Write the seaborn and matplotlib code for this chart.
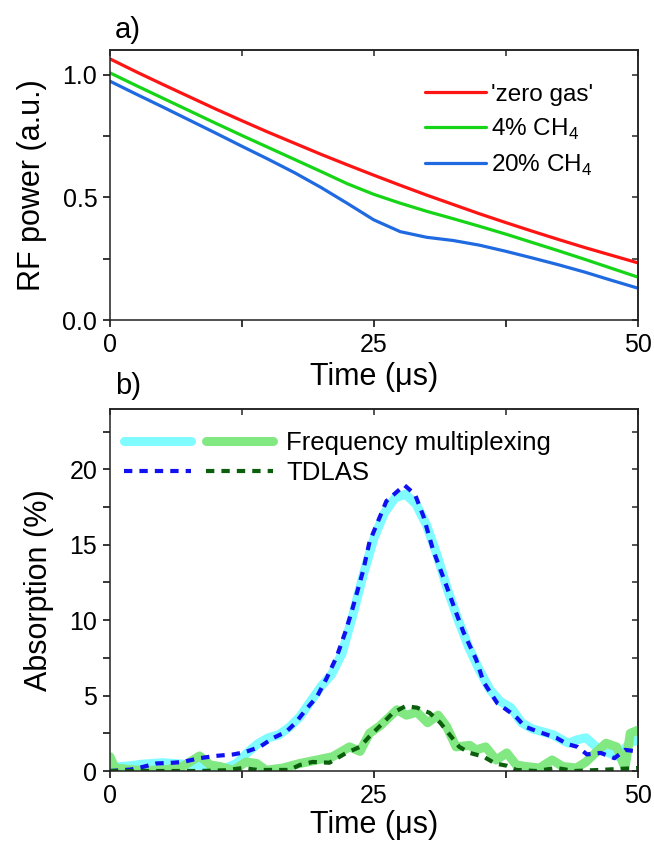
import numpy as np
import pandas as pd
import matplotlib
matplotlib.use("Agg")
import matplotlib.pyplot as plt
from matplotlib.ticker import MultipleLocator, FormatStrFormatter
from matplotlib.legend_handler import HandlerTuple
import seaborn as sns

sns.set_style("ticks")
plt.rcParams['font.family'] = ['Liberation Sans', 'DejaVu Sans']
plt.rcParams['mathtext.fontset'] = 'custom'
plt.rcParams['mathtext.rm'] = 'Liberation Sans'
plt.rcParams['text.color'] = 'black'
plt.rcParams['axes.labelcolor'] = 'black'

# ---- panel a: RF power traces ----
t_a = [0, 2.5, 5, 7.5, 10, 12.5, 15, 17.5, 20, 22.5, 25, 27.5, 30, 32.5, 35, 37.5, 40, 42.5, 45, 47.5, 50]
zero_gas = [1.064, 1.011, 0.960, 0.910, 0.860, 0.812, 0.765, 0.720, 0.675, 0.632, 0.590,
            0.549, 0.509, 0.471, 0.433, 0.397, 0.362, 0.328, 0.295, 0.264, 0.233]
ch4_4 = [1.007, 0.955, 0.904, 0.853, 0.802, 0.752, 0.703, 0.654, 0.605, 0.555, 0.512,
         0.476, 0.443, 0.413, 0.382, 0.350, 0.316, 0.282, 0.247, 0.211, 0.175]
ch4_20 = [0.973, 0.920, 0.868, 0.815, 0.762, 0.708, 0.655, 0.600, 0.540, 0.475, 0.408,
          0.360, 0.337, 0.324, 0.305, 0.280, 0.253, 0.225, 0.195, 0.162, 0.130]

# ---- panel b: absorption ----
t_fm20 = [0, 1, 2, 3, 4, 5, 6, 7, 8, 9, 10, 11, 12, 13, 14, 15, 16, 17, 18, 19, 20, 21, 22, 23, 24,
          25, 26, 27, 28, 29, 30, 31, 32, 33, 34, 35, 36, 37, 38, 39, 40, 41, 42, 43, 43.5, 44.2,
          45.1, 46.4, 47.3, 48.2, 49.2, 50]
fm20 = [0.2, 0.3, 0.35, 0.45, 0.5, 0.55, 0.5, 0.45, 0.4, 0.35, 0.3, 0.2, 0.5, 1.2, 1.8, 2.2, 2.4,
        2.9, 3.6, 4.6, 5.6, 6.4, 7.8, 10.3, 13.0, 15.4, 17.1, 18.1, 18.35, 17.7, 16.3, 14.3, 12.0,
        10.0, 8.2, 6.7, 5.4, 4.6, 4.2, 3.2, 2.8, 2.6, 2.4, 2.0, 1.84, 2.06, 2.2, 1.4, 1.2, 0.95,
        1.84, 2.06]

t_td20 = [0, 2, 3, 4.4, 6, 6.9, 8.5, 10, 11.7, 12.8, 14.2, 15.5, 16.7, 17.6, 18.6, 19.6, 20.5,
          21.5, 22.4, 23, 24, 24.6, 26.2, 27.9, 28.9, 29.7, 30.6, 31.9, 32.8, 33.5, 34.7, 35.4,
          36.7, 37.9, 38.6, 39.3, 40.6, 42.3, 43.3, 44.3, 45.2, 46.5, 47.8, 48.8, 50]
td20 = [0.0, 0.1, 0.25, 0.5, 0.55, 0.6, 0.85, 1.0, 1.1, 1.25, 1.6, 2.2, 2.6, 3.2, 4.1, 4.9, 6.1,
        7.6, 9.4, 10.8, 13.3, 15.2, 17.9, 18.95, 18.35, 16.9, 14.7, 12.25, 10.5, 9.2, 7.4, 5.9,
        4.5, 3.9, 3.5, 2.95, 2.6, 2.2, 1.8, 1.6, 1.1, 1.2, 0.85, 1.4, 1.3]

t_fm4 = [0, 0.5, 2.2, 4, 5.4, 6.9, 8.5, 9.5, 10.4, 11.7, 12.9, 13.9, 14.8, 16.4, 18, 19.6, 21.1,
         22.7, 23.7, 24.6, 25.6, 26.2, 27.2, 28.1, 29.1, 30.1, 31.1, 31.9, 32.8, 34.1, 34.7,
         35.6, 36.6, 37.6, 38.5, 39.4, 40.7, 41.9, 42.9, 44.2, 45.1, 46, 47, 48, 48.8, 49.3, 50]
fm4 = [0.95, 0.2, 0.07, 0.05, 0.1, 0.3, 1.0, 0.4, 0.3, 0.05, 0.6, 0.5, 0.05, 0.2, 0.5, 0.73,
       0.95, 1.6, 1.3, 2.5, 3.0, 3.4, 4.06, 3.7, 3.9, 3.2, 3.7, 2.95, 1.6, 1.7, 1.4, 1.6, 0.73,
       1.2, 0.4, 0.3, 0.2, 0.73, 0.3, 0.2, 0.6, 1.2, 1.84, 1.6, 0.2, 2.5, 2.7]

t_td4 = [0, 5, 8.5, 11, 12.6, 14, 17, 18, 19.2, 20.8, 22.4, 23.7, 24.6, 25.9, 26.8, 28, 29.1,
         30.3, 31.3, 32.2, 33.1, 34.1, 35.4, 36.5, 37.6, 38.5, 40.4, 42.3, 44, 46.4, 50]
td4 = [0.0, 0.0, 0.0, 0.05, 0.2, 0.07, 0.07, 0.4, 0.6, 0.55, 1.2, 1.6, 2.3, 3.2, 3.85, 4.3, 4.2,
       3.85, 3.2, 2.4, 1.6, 1.2, 0.95, 0.5, 0.35, 0.07, 0.0, 0.2, 0.0, 0.07, 0.2]

fig = plt.figure(figsize=(6.54, 8.43), dpi=100)
ax_a = fig.add_axes([0.168, 0.6204, 0.807, 0.3203])
ax_b = fig.add_axes([0.168, 0.0854, 0.807, 0.4294])

TICK_FS = 18
LAB_FS = 22


def style_axes(ax, ymajor, yminor, ylim):
    ax.set_xlim(0, 50)
    ax.set_ylim(*ylim)
    ax.xaxis.set_major_locator(MultipleLocator(25))
    ax.xaxis.set_minor_locator(MultipleLocator(12.5))
    ax.yaxis.set_major_locator(MultipleLocator(ymajor))
    ax.yaxis.set_minor_locator(MultipleLocator(yminor))
    ax.tick_params(which='both', direction='out', length=5, width=1.1,
                   labelsize=TICK_FS, colors='black', pad=4)
    for s in ax.spines.values():
        s.set_linewidth(1.1)
        s.set_color('#222222')
    # inward ticks on the top and right frame
    top = ax.secondary_xaxis('top')
    top.xaxis.set_major_locator(MultipleLocator(25))
    top.xaxis.set_minor_locator(MultipleLocator(12.5))
    top.tick_params(which='both', direction='in', length=4, width=1.1, labeltop=False)
    right = ax.secondary_yaxis('right')
    right.yaxis.set_major_locator(MultipleLocator(ymajor))
    right.yaxis.set_minor_locator(MultipleLocator(yminor))
    right.tick_params(which='both', direction='in', length=4, width=1.1, labelright=False)
    for sec in (top, right):
        for s in sec.spines.values():
            s.set_linewidth(1.1)
            s.set_color('#222222')


# panel a
sns.lineplot(x=t_a, y=zero_gas, ax=ax_a, color='#FF1414', lw=2.3, label="'zero gas'")
sns.lineplot(x=t_a, y=ch4_4, ax=ax_a, color='#16D516', lw=2.3, label="4% CH$_4$")
sns.lineplot(x=t_a, y=ch4_20, ax=ax_a, color='#1F6AE0', lw=2.3, label="20% CH$_4$")
style_axes(ax_a, 0.5, 0.25, (0, 1.1))
ax_a.yaxis.set_major_formatter(FormatStrFormatter('%.1f'))
ax_a.set_xlabel('Time (\u03bcs)', fontsize=LAB_FS, labelpad=4)
ax_a.set_ylabel('RF power (a.u.)', fontsize=LAB_FS, labelpad=11)
ax_a.legend(loc='upper left', bbox_to_anchor=(0.597, 0.875), frameon=False, fontsize=17.5,
            handlelength=2.5, handletextpad=0.2, labelspacing=0.45, borderpad=0,
            borderaxespad=0)

# panel b
sns.lineplot(x=t_fm20, y=fm20, ax=ax_b, color='#80FBFF', lw=6.5)
l_fm20 = ax_b.lines[-1]
sns.lineplot(x=t_fm4, y=fm4, ax=ax_b, color='#82E882', lw=6.5)
l_fm4 = ax_b.lines[-1]
sns.lineplot(x=t_td20, y=td20, ax=ax_b, color='#1010F0', lw=3.0, linestyle=(0, (2, 1.7)))
l_td20 = ax_b.lines[-1]
sns.lineplot(x=t_td4, y=td4, ax=ax_b, color='#0B5E0B', lw=3.0, linestyle=(0, (2, 1.7)))
l_td4 = ax_b.lines[-1]
style_axes(ax_b, 5, 2.5, (0, 24))
ax_b.set_xlabel('Time (\u03bcs)', fontsize=LAB_FS, labelpad=2)
ax_b.set_ylabel('Absorption (%)', fontsize=LAB_FS, labelpad=11)
ax_b.legend([(l_fm20, l_fm4), (l_td20, l_td4)], ['Frequency multiplexing', 'TDLAS'],
            handler_map={tuple: HandlerTuple(ndivide=None, pad=0.6)},
            loc='upper left', bbox_to_anchor=(0.027, 0.938), frameon=False, fontsize=18.5,
            handlelength=5.8, handletextpad=0.5, labelspacing=0.2, borderpad=0,
            borderaxespad=0)

fig.text(0.176, 0.965, 'a)', fontsize=21, va='center', ha='left')
fig.text(0.176, 0.542, 'b)', fontsize=21, va='center', ha='left')

fig.savefig('out.png', dpi=100)
